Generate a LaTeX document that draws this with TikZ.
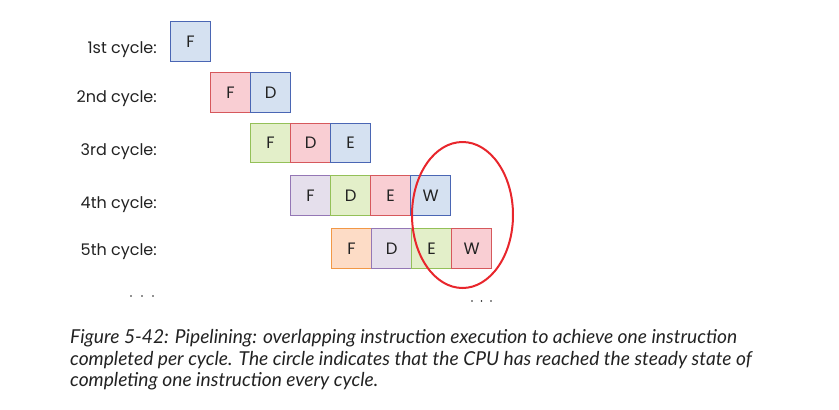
\documentclass[tikz,border=0pt]{standalone}
\usepackage{fontspec}
\setmainfont{Poppins}
\newfontfamily\capfont{Lato}
\usetikzlibrary{shapes.geometric}
\definecolor{bF}{HTML}{D5E1F1}\definecolor{bD}{HTML}{4A66B4}
\definecolor{rF}{HTML}{F9CED3}\definecolor{rD}{HTML}{D6585C}
\definecolor{gF}{HTML}{E3EFC9}\definecolor{gD}{HTML}{94C058}
\definecolor{pF}{HTML}{E5DFEC}\definecolor{pD}{HTML}{9477B5}
\definecolor{oF}{HTML}{FDDCC6}\definecolor{oD}{HTML}{F29846}
\definecolor{ring}{HTML}{E8262C}
\definecolor{txt}{HTML}{222222}
\begin{document}
\begin{tikzpicture}[x=1pt,y=-1pt,
  box/.style={draw, line width=1.2pt, minimum width=40pt, minimum height=39.5pt, inner sep=0pt, anchor=north west, font=\fontsize{16.5}{16.5}\selectfont, text=txt},
  bl/.style={box, fill=bF, draw=bD},
  rd/.style={box, fill=rF, draw=rD},
  gr/.style={box, fill=gF, draw=gD},
  pu/.style={box, fill=pF, draw=pD},
  og/.style={box, fill=oF, draw=oD},
  lab/.style={anchor=base east, inner sep=0pt, font=\fontsize{16}{16}\selectfont, text=txt},
  captxt/.style={anchor=base west, inner sep=0pt, font=\capfont\itshape\fontsize{19.2}{19.2}\selectfont, text=txt}]
\useasboundingbox (0,0) rectangle (839,410);
% labels
\node[lab] (l1) at (157,53) {1st cycle:};
\node[lab] (l2) at (157,102) {2nd cycle:};
\node[lab] (l3) at (157,155) {3rd cycle:};
\node[lab] (l4) at (157,208) {4th cycle:};
\node[lab] (l5) at (157,255) {5th cycle:};
% row 1
\node[bl] (r1a) at (170,21) {F};
% row 2
\node[rd] (r2a) at (210,72) {F};
\node[bl] (r2b) at (250,72) {D};
% row 3
\node[gr] (r3a) at (250,122.5) {F};
\node[rd] (r3b) at (290,122.5) {D};
\node[bl] (r3c) at (330,122.5) {E};
% row 4
\node[pu] (r4a) at (290,175) {F};
\node[gr] (r4b) at (330,175) {D};
\node[rd] (r4c) at (370,175) {E};
\node[bl] (r4d) at (410,175) {W};
% row 5
\node[og] (r5a) at (331,228) {F};
\node[pu] (r5b) at (371,228) {D};
\node[gr] (r5c) at (411,228) {E};
\node[rd] (r5d) at (451,228) {W};
% circle
\node[draw=ring, line width=2pt, ellipse, minimum width=101pt, minimum height=146pt, inner sep=0pt] (circ) at (462.5,215) {};
% dots
\foreach \x in {131,142,153} \fill[txt] (\x,296) circle (0.9pt);
\foreach \x in {472,481.5,491} \fill[txt] (\x,301) circle (0.9pt);
% caption
\node[captxt] (c1) at (70,343) {Figure 5-42: Pipelining: overlapping instruction execution to achieve one instruction};
\node[captxt] (c2) at (70,365) {completed per cycle. The circle indicates that the CPU has reached the steady state of};
\node[captxt] (c3) at (70,386.5) {completing one instruction every cycle.};
\end{tikzpicture}
\end{document}
